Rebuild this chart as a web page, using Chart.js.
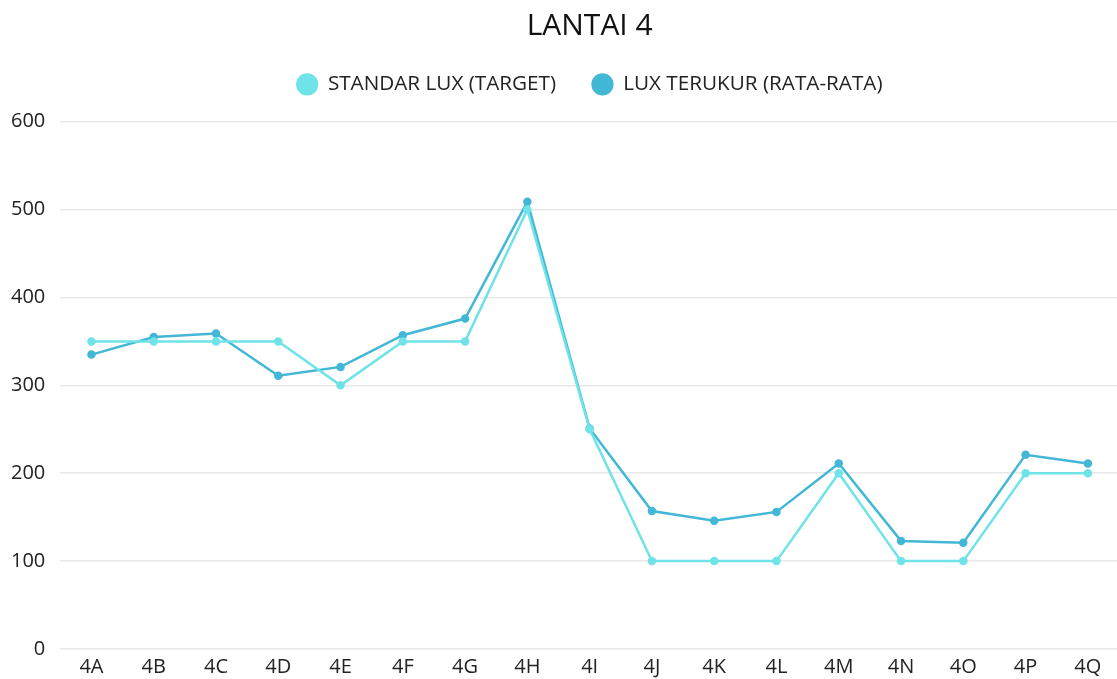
<!DOCTYPE html>
<html>
<head>
<meta charset="utf-8">
<script src="https://cdn.jsdelivr.net/npm/chart.js@4/dist/chart.umd.min.js"></script>
<style>
  html, body { margin: 0; padding: 0; background: #ffffff; overflow: hidden; }
  #wrap { width: 1126px; height: 679px; position: relative; }
</style>
</head>
<body>
<div id="wrap"><canvas id="chart"></canvas></div>
<script>
// Room labels on floor 4
const rooms = ['4A','4B','4C','4D','4E','4F','4G','4H','4I','4J','4K','4L','4M','4N','4O','4P','4Q'];
// Required illuminance per room (lux)
const targetLux = [350,350,350,350,300,350,350,500,250,100,100,100,200,100,100,200,200];
// Average measured illuminance per room (lux)
const measuredLux = [335,355,359,311,321,357,376,509,251,157,146,156,211,123,121,221,211];

const seriesNames = ['STANDAR LUX (TARGET)', 'LUX TERUKUR (RATA-RATA)'];
const chartTitle = 'LANTAI 4';

const FONT = '"Open Sans", "Noto Sans", sans-serif';

// Extra space between the legend row and the plot area,
// and title + legend centred over the plot area
const headerLayout = {
  id: 'headerLayout',
  beforeInit(chart) {
    const fit = chart.legend.fit;
    chart.legend.fit = function () {
      fit.bind(chart.legend)();
      this.height += 17;
    };
  },
  afterLayout(chart) {
    const a = chart.chartArea;
    [chart.titleBlock, chart.legend].forEach(b => {
      if (!b) return;
      b.left = a.left;
      b.right = a.right;
      b.width = a.right - a.left;
    });
  }
};

new Chart(document.getElementById('chart'), {
  type: 'line',
  data: {
    labels: rooms,
    datasets: [
      {
        label: seriesNames[0],
        data: targetLux,
        borderColor: '#6fe3e8',
        backgroundColor: '#6fe3e8',
        borderWidth: 2.5,
        pointRadius: 3,
        pointHoverRadius: 4,
        tension: 0
      },
      {
        label: seriesNames[1],
        data: measuredLux,
        borderColor: '#43b7d6',
        backgroundColor: '#43b7d6',
        borderWidth: 2.5,
        pointRadius: 3,
        pointHoverRadius: 4,
        tension: 0
      }
    ]
  },
  plugins: [headerLayout],
  options: {
    responsive: true,
    maintainAspectRatio: false,
    animation: false,
    layout: { padding: { left: -4, right: 7, top: 8, bottom: -6 } },
    plugins: {
      title: {
        display: true,
        text: chartTitle,
        color: '#111111',
        font: { family: FONT, size: 30, weight: 'normal' },
        padding: { top: 0, bottom: -6 }
      },
      legend: {
        display: true,
        position: 'top',
        labels: {
          usePointStyle: true,
          pointStyle: 'circle',
          boxHeight: 14,
          color: '#222222',
          font: { family: FONT, size: 20.7 },
          padding: 36
        }
      },
      tooltip: { enabled: false }
    },
    scales: {
      x: {
        offset: true,
        grid: { display: false, drawTicks: false },
        border: { display: false },
        ticks: {
          color: '#222222',
          font: { family: FONT, size: 20 },
          padding: 6,
          maxRotation: 0
        }
      },
      y: {
        min: 0,
        max: 600,
        ticks: {
          stepSize: 100,
          color: '#222222',
          font: { family: FONT, size: 20 },
          padding: 15
        },
        grid: { color: '#e8e8e8', lineWidth: 1.5, drawTicks: false },
        border: { display: false }
      }
    }
  }
});
</script>
</body>
</html>
